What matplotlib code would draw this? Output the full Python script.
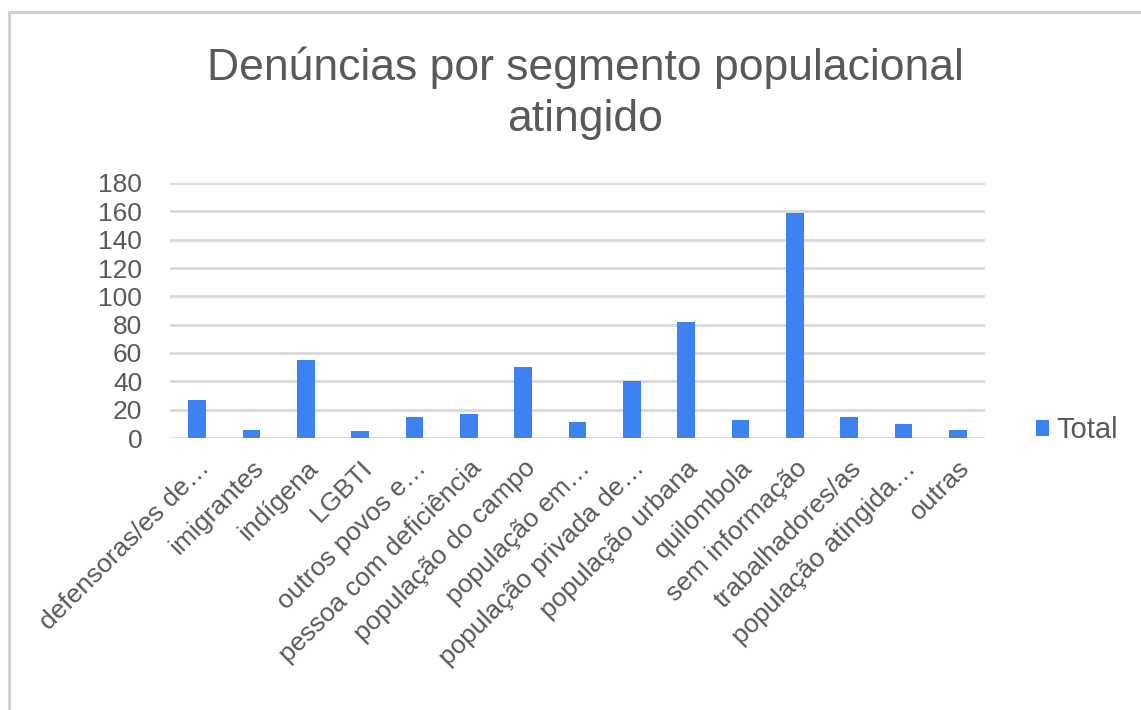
import matplotlib
matplotlib.use("Agg")
import matplotlib.pyplot as plt
from matplotlib.patches import Rectangle

categories = ["defensoras/es de…", "imigrantes", "indígena", "LGBTI", "outros povos e…",
              "pessoa com deficiência", "população do campo", "população em…",
              "população privada de…", "população urbana", "quilombola", "sem informação",
              "trabalhadores/as", "população atingida…", "outras"]
values = [27, 6, 55, 5, 15, 17, 50, 11, 40, 82, 13, 159, 15, 10, 6]
yticks = [0, 20, 40, 60, 80, 100, 120, 140, 160, 180]
title = "Denúncias por segmento populacional\natingido"
series_name = "Total"

plt.rcParams['font.family'] = ['Liberation Sans', 'DejaVu Sans']
txt = '#595959'
blue = '#3C82F0'

fig = plt.figure(figsize=(11.41, 7.10), dpi=100)
fig.patch.set_facecolor('white')
# outer frame
fig.patches.append(Rectangle((9/1141, -0.1), 1.2, (710-12)/710 + 0.1, transform=fig.transFigure,
                             fill=False, edgecolor='#d0d0d0', linewidth=2.2))

ax = fig.add_axes([170/1141, 272/710, 815/1141, 255/710])
x = list(range(len(categories)))
ax.bar(x, values, width=0.33, color=blue, zorder=3, label=series_name)
ax.set_xlim(-0.5, len(categories) - 0.5)
ax.set_ylim(0, 180)
ax.set_yticks(yticks)
ax.set_yticklabels([str(v) for v in yticks], fontsize=19, color=txt)
ax.yaxis.grid(True, color='#d9d9d9', linewidth=2, zorder=0)
ax.set_axisbelow(True)
for s in ax.spines.values():
    s.set_visible(False)
ax.tick_params(axis='both', length=0)
ax.tick_params(axis='y', pad=20)
ax.set_xticks(x)
ax.set_xticklabels(categories, rotation=45, ha='right', rotation_mode='anchor',
                   fontsize=19, color=txt)
ax.tick_params(axis='x', pad=13)

fig.text(585/1141, 1 - 93/710, title, ha='center', va='center', fontsize=32,
         color=txt, linespacing=1.3)

leg = ax.legend(loc='center left', bbox_to_anchor=(1.03, 0.03), frameon=False,
                fontsize=21, handlelength=0.45, handleheight=0.45, handletextpad=0.25,
                labelcolor=txt)

fig.savefig('out.png', dpi=100)
